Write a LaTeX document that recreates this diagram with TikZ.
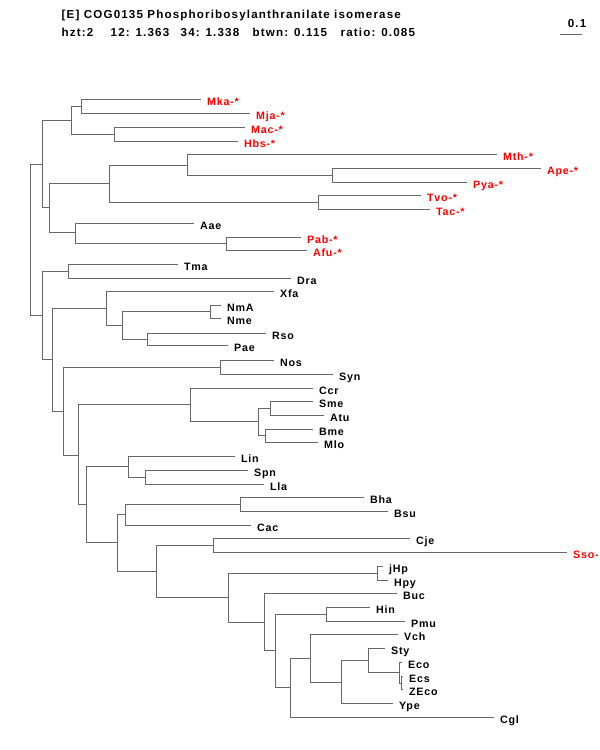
\documentclass[tikz,border=0pt]{standalone}
\usepackage{fontspec}
\setmainfont{Liberation Sans}
\newfontfamily\treefont{Liberation Sans}[LetterSpace=7]
\newfontfamily\headfont{Liberation Sans}[LetterSpace=10]
\definecolor{branchgray}{RGB}{104,104,104}

\begin{document}
\begin{tikzpicture}[x=1pt,y=-1pt,
    branch/.style={draw=branchgray,line width=1.6pt},
    taxon/.style={anchor=west,inner xsep=6.5pt,inner ysep=0pt,text height=11.5pt,text depth=0pt,
      font=\treefont\bfseries\fontsize{10.7}{12}\selectfont},
    redtaxon/.style={taxon,text=red},
    header/.style={anchor=base west,inner sep=0pt,font=\headfont\bfseries\fontsize{11.6}{14}\selectfont}]
    \useasboundingbox (0,0) rectangle (600,750);
    \begin{scope}[shift={(0.5,0.5)}]

    \node[header] (title) at (61,17.5) {[E] COG0135 Phosphoribosylanthranilate isomerase};
    \node[header] (stats) at (61,35.5) {\makebox[49pt][l]{hzt:2}\makebox[70pt][l]{12: 1.363}\makebox[72pt][l]{34: 1.338}\makebox[88pt][l]{btwn: 0.115}ratio: 0.085};

    \coordinate (bar-l) at (559,34);
    \coordinate (bar-r) at (581,34);
    \node[header,anchor=base east] (bar-t) at (586,27) {0.1};
    \draw[branch] (bar-l) -- (bar-r);

    \node[redtaxon] (Mka)  at (200,99)  {Mka-*};
    \node[redtaxon] (Mja)  at (249,113) {Mja-*};
    \node[redtaxon] (Mac)  at (244,127) {Mac-*};
    \node[redtaxon] (Hbs)  at (237,141) {Hbs-*};
    \node[redtaxon] (Mth)  at (496,154) {Mth-*};
    \node[redtaxon] (Ape)  at (540,168) {Ape-*};
    \node[redtaxon] (Pya)  at (466,182) {Pya-*};
    \node[redtaxon] (Tvo)  at (420,195) {Tvo-*};
    \node[redtaxon] (Tac)  at (429,209) {Tac-*};
    \node[taxon]    (Aae)  at (193,223) {Aae};
    \node[redtaxon] (Pab)  at (300,237) {Pab-*};
    \node[redtaxon] (Afu)  at (306,250) {Afu-*};
    \node[taxon]    (Tma)  at (177,264) {Tma};
    \node[taxon]    (Dra)  at (290,278) {Dra};
    \node[taxon]    (Xfa)  at (273,291) {Xfa};
    \node[taxon]    (NmA)  at (220,305) {NmA};
    \node[taxon]    (Nme)  at (220,318) {Nme};
    \node[taxon]    (Rso)  at (265,333) {Rso};
    \node[taxon]    (Pae)  at (227,345) {Pae};
    \node[taxon]    (Nos)  at (273,360) {Nos};
    \node[taxon]    (Syn)  at (332,374) {Syn};
    \node[taxon]    (Ccr)  at (312,388) {Ccr};
    \node[taxon]    (Sme)  at (312,401) {Sme};
    \node[taxon]    (Atu)  at (323,415) {Atu};
    \node[taxon]    (Bme)  at (312,429) {Bme};
    \node[taxon]    (Mlo)  at (317,442) {Mlo};
    \node[taxon]    (Lin)  at (234,456) {Lin};
    \node[taxon]    (Spn)  at (247,470) {Spn};
    \node[taxon]    (Lla)  at (263,484) {Lla};
    \node[taxon]    (Bha)  at (363,497) {Bha};
    \node[taxon]    (Bsu)  at (387,511) {Bsu};
    \node[taxon]    (Cac)  at (250,525) {Cac};
    \node[taxon]    (Cje)  at (409,538) {Cje};
    \node[redtaxon] (Sso)  at (566,552) {Sso-};
    \node[taxon]    (jHp)  at (382,566) {jHp};
    \node[taxon]    (Hpy)  at (387,580) {Hpy};
    \node[taxon]    (Buc)  at (396,593) {Buc};
    \node[taxon]    (Hin)  at (369,607) {Hin};
    \node[taxon]    (Pmu)  at (404,621) {Pmu};
    \node[taxon]    (Vch)  at (397,634) {Vch};
    \node[taxon]    (Sty)  at (384,648) {Sty};
    \node[taxon]    (Eco)  at (401,662) {Eco};
    \node[taxon]    (Ecs)  at (402,676) {Ecs};
    \node[taxon]    (ZEco) at (402,689) {ZEco};
    \node[taxon]    (Ype)  at (392,703) {Ype};
    \node[taxon]    (Cgl)  at (493,717) {Cgl};

    \coordinate (root) at (30,240);
    \coordinate (A)   at (42,164);
    \coordinate (A1)  at (71,120);
    \coordinate (A1a) at (81,106);
    \coordinate (A1b) at (114,134);
    \coordinate (A2)  at (49,207);
    \coordinate (A2a) at (109,183);
    \coordinate (A2c) at (187,165);
    \coordinate (A2e) at (332,175);
    \coordinate (A2d) at (318,202);
    \coordinate (A2b) at (75,232);
    \coordinate (A2f) at (226,243);
    \coordinate (B)   at (42,315);
    \coordinate (B1)  at (68,271);
    \coordinate (B2)  at (52,359);
    \coordinate (B3)  at (106,308);
    \coordinate (B5)  at (122,325);
    \coordinate (B6)  at (210,311);
    \coordinate (B7)  at (147,339);
    \coordinate (B4)  at (63,411);
    \coordinate (B8)  at (220,367);
    \coordinate (C)   at (78,455);
    \coordinate (C1)  at (190,404);
    \coordinate (C3)  at (258,421);
    \coordinate (C4)  at (270,408);
    \coordinate (C5)  at (265,435);
    \coordinate (C2)  at (86,504);
    \coordinate (D1)  at (128,466);
    \coordinate (D3)  at (145,477);
    \coordinate (D2)  at (117,542);
    \coordinate (E1)  at (125,514);
    \coordinate (E3)  at (240,504);
    \coordinate (E2)  at (156,571);
    \coordinate (F1)  at (213,545);
    \coordinate (F2)  at (228,597);
    \coordinate (G1)  at (377,573);
    \coordinate (G2)  at (264,622);
    \coordinate (H)   at (275,650);
    \coordinate (H1)  at (326,614);
    \coordinate (H2)  at (290,687);
    \coordinate (I)   at (310,658);
    \coordinate (J)   at (341,682);
    \coordinate (K)   at (368,660);
    \coordinate (L)   at (399,672);
    \coordinate (L2)  at (401,683);

    \draw[branch] (root) |- (A)   (root) |- (B);
    \draw[branch] (A)   |- (A1)  (A)   |- (A2);
    \draw[branch] (A1)  |- (A1a) (A1)  |- (A1b);
    \draw[branch] (A1a) |- (Mka) (A1a) |- (Mja);
    \draw[branch] (A1b) |- (Mac) (A1b) |- (Hbs);
    \draw[branch] (A2)  |- (A2a) (A2)  |- (A2b);
    \draw[branch] (A2a) |- (A2c) (A2a) |- (A2d);
    \draw[branch] (A2c) |- (Mth) (A2c) |- (A2e);
    \draw[branch] (A2e) |- (Ape) (A2e) |- (Pya);
    \draw[branch] (A2d) |- (Tvo) (A2d) |- (Tac);
    \draw[branch] (A2b) |- (Aae) (A2b) |- (A2f);
    \draw[branch] (A2f) |- (Pab) (A2f) |- (Afu);
    \draw[branch] (B)   |- (B1)  (B)   |- (B2);
    \draw[branch] (B1)  |- (Tma) (B1)  |- (Dra);
    \draw[branch] (B2)  |- (B3)  (B2)  |- (B4);
    \draw[branch] (B3)  |- (Xfa) (B3)  |- (B5);
    \draw[branch] (B5)  |- (B6)  (B5)  |- (B7);
    \draw[branch] (B6)  |- (NmA) (B6)  |- (Nme);
    \draw[branch] (B7)  |- (Rso) (B7)  |- (Pae);
    \draw[branch] (B4)  |- (B8)  (B4)  |- (C);
    \draw[branch] (B8)  |- (Nos) (B8)  |- (Syn);
    \draw[branch] (C)   |- (C1)  (C)   |- (C2);
    \draw[branch] (C1)  |- (Ccr) (C1)  |- (C3);
    \draw[branch] (C3)  |- (C4)  (C3)  |- (C5);
    \draw[branch] (C4)  |- (Sme) (C4)  |- (Atu);
    \draw[branch] (C5)  |- (Bme) (C5)  |- (Mlo);
    \draw[branch] (C2)  |- (D1)  (C2)  |- (D2);
    \draw[branch] (D1)  |- (Lin) (D1)  |- (D3);
    \draw[branch] (D3)  |- (Spn) (D3)  |- (Lla);
    \draw[branch] (D2)  |- (E1)  (D2)  |- (E2);
    \draw[branch] (E1)  |- (E3)  (E1)  |- (Cac);
    \draw[branch] (E3)  |- (Bha) (E3)  |- (Bsu);
    \draw[branch] (E2)  |- (F1)  (E2)  |- (F2);
    \draw[branch] (F1)  |- (Cje) (F1)  |- (Sso);
    \draw[branch] (F2)  |- (G1)  (F2)  |- (G2);
    \draw[branch] (G1)  |- (jHp) (G1)  |- (Hpy);
    \draw[branch] (G2)  |- (Buc) (G2)  |- (H);
    \draw[branch] (H)   |- (H1)  (H)   |- (H2);
    \draw[branch] (H1)  |- (Hin) (H1)  |- (Pmu);
    \draw[branch] (H2)  |- (I)   (H2)  |- (Cgl);
    \draw[branch] (I)   |- (Vch) (I)   |- (J);
    \draw[branch] (J)   |- (K)   (J)   |- (Ype);
    \draw[branch] (K)   |- (Sty) (K)   |- (L);
    \draw[branch] (L)   |- (Eco) (L)   |- (L2);
    \draw[branch] (L2)  |- (Ecs) (L2)  |- (ZEco);
    \end{scope}
\end{tikzpicture}
\end{document}
